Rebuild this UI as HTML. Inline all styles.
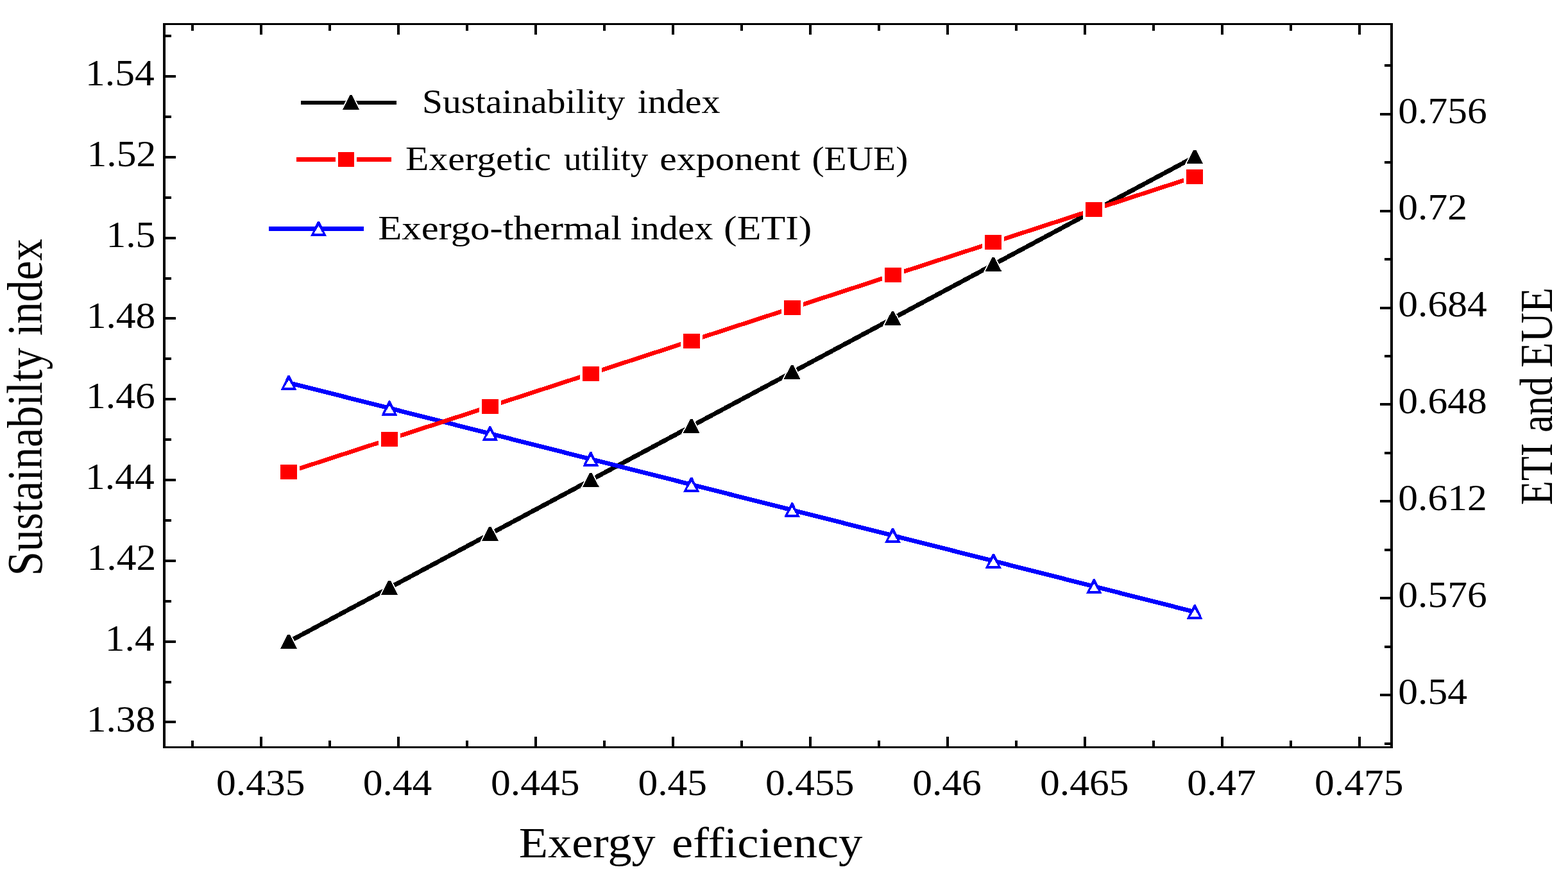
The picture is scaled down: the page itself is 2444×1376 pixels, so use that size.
<!DOCTYPE html><html><head><meta charset="utf-8"><title>Sustainability index vs exergy efficiency</title><style>html,body{margin:0;padding:0;background:#fff;width:2444px;height:1376px;overflow:hidden}svg{display:block}</style></head><body><svg shape-rendering="crispEdges" width="2444" height="1376" viewBox="0 0 2444 1376"><rect x="0" y="0" width="2444" height="1376" fill="#fff"/><path d="M256 36.0V1166.0M2169 36.0V1166.0" stroke="#000" stroke-width="4"/><path d="M254 37.5H2171M254 1164.5H2171" stroke="#000" stroke-width="3"/><path d="M407 1164.5V1148M407 37.5V54M300 1164.5V1154M300 37.5V48M621 1164.5V1148M621 37.5V54M514 1164.5V1154M514 37.5V48M835 1164.5V1148M835 37.5V54M728 1164.5V1154M728 37.5V48M1049 1164.5V1148M1049 37.5V54M942 1164.5V1154M942 37.5V48M1263 1164.5V1148M1263 37.5V54M1156 1164.5V1154M1156 37.5V48M1477 1164.5V1148M1477 37.5V54M1370 1164.5V1154M1370 37.5V48M1691 1164.5V1148M1691 37.5V54M1584 1164.5V1154M1584 37.5V48M1905 1164.5V1148M1905 37.5V54M1798 1164.5V1154M1798 37.5V48M2119 1164.5V1148M2119 37.5V54M2012 1164.5V1154M2012 37.5V48M256 119.0H274M256 56.1H267M256 244.8H274M256 181.9H267M256 370.6H274M256 307.7H267M256 496.4H274M256 433.5H267M256 622.2H274M256 559.3H267M256 748.0H274M256 685.1H267M256 873.8H274M256 810.9H267M256 999.6H274M256 936.7H267M256 1125.4H274M256 1062.5H267M2169 177.5H2151M2169 328.5H2151M2169 479.5H2151M2169 630.4H2151M2169 781.4H2151M2169 932.4H2151M2169 1083.4H2151M2169 102.0H2158M2169 253.0H2158M2169 404.0H2158M2169 554.9H2158M2169 705.9H2158M2169 856.9H2158M2169 1007.9H2158M2169 1158.9H2158" stroke="#000" stroke-width="4"/><path d="M450.10 999.90 L607.00 915.96 L763.90 832.02 L920.80 748.08 L1077.70 664.14 L1234.60 580.20 L1391.50 496.26 L1548.40 412.32 L1705.30 328.38 L1862.20 244.44" fill="none" stroke="#000" stroke-width="7" stroke-linejoin="round"/><path d="M437.10 1010.80L463.10 1010.80L451.95 989.00L448.25 989.00ZM594.00 926.86L620.00 926.86L608.85 905.06L605.15 905.06ZM750.90 842.92L776.90 842.92L765.75 821.12L762.05 821.12ZM907.80 758.98L933.80 758.98L922.65 737.18L918.95 737.18ZM1064.70 675.04L1090.70 675.04L1079.55 653.24L1075.85 653.24ZM1221.60 591.10L1247.60 591.10L1236.45 569.30L1232.75 569.30ZM1378.50 507.16L1404.50 507.16L1393.35 485.36L1389.65 485.36ZM1535.40 423.22L1561.40 423.22L1550.25 401.42L1546.55 401.42ZM1692.30 339.28L1718.30 339.28L1707.15 317.48L1703.45 317.48ZM1849.20 255.34L1875.20 255.34L1864.05 233.54L1860.35 233.54Z" fill="#fff" stroke="#fff" stroke-width="3.6" stroke-linejoin="miter"/><path d="M437.10 1010.80L463.10 1010.80L451.95 989.00L448.25 989.00ZM594.00 926.86L620.00 926.86L608.85 905.06L605.15 905.06ZM750.90 842.92L776.90 842.92L765.75 821.12L762.05 821.12ZM907.80 758.98L933.80 758.98L922.65 737.18L918.95 737.18ZM1064.70 675.04L1090.70 675.04L1079.55 653.24L1075.85 653.24ZM1221.60 591.10L1247.60 591.10L1236.45 569.30L1232.75 569.30ZM1378.50 507.16L1404.50 507.16L1393.35 485.36L1389.65 485.36ZM1535.40 423.22L1561.40 423.22L1550.25 401.42L1546.55 401.42ZM1692.30 339.28L1718.30 339.28L1707.15 317.48L1703.45 317.48ZM1849.20 255.34L1875.20 255.34L1864.05 233.54L1860.35 233.54Z" fill="#000"/><path d="M450.10 596.40 L607.00 636.08 L763.90 675.76 L920.80 715.44 L1077.70 755.12 L1234.60 794.80 L1391.50 834.48 L1548.40 874.16 L1705.30 913.84 L1862.20 953.52" fill="none" stroke="#00f" stroke-width="6.8" stroke-linejoin="round"/><path d="M443.05 603.90L450.10 592.00L457.15 603.90ZM599.95 643.58L607.00 631.68L614.05 643.58ZM756.85 683.26L763.90 671.36L770.95 683.26ZM913.75 722.94L920.80 711.04L927.85 722.94ZM1070.65 762.62L1077.70 750.72L1084.75 762.62ZM1227.55 802.30L1234.60 790.40L1241.65 802.30ZM1384.45 841.98L1391.50 830.08L1398.55 841.98ZM1541.35 881.66L1548.40 869.76L1555.45 881.66ZM1698.25 921.34L1705.30 909.44L1712.35 921.34ZM1855.15 961.02L1862.20 949.12L1869.25 961.02Z" fill="#fff"/><path d="M437.60 608.00L462.60 608.00L451.50 584.80L448.70 584.80ZM443.05 603.90L450.10 592.00L457.15 603.90ZM594.50 647.68L619.50 647.68L608.40 624.48L605.60 624.48ZM599.95 643.58L607.00 631.68L614.05 643.58ZM751.40 687.36L776.40 687.36L765.30 664.16L762.50 664.16ZM756.85 683.26L763.90 671.36L770.95 683.26ZM908.30 727.04L933.30 727.04L922.20 703.84L919.40 703.84ZM913.75 722.94L920.80 711.04L927.85 722.94ZM1065.20 766.72L1090.20 766.72L1079.10 743.52L1076.30 743.52ZM1070.65 762.62L1077.70 750.72L1084.75 762.62ZM1222.10 806.40L1247.10 806.40L1236.00 783.20L1233.20 783.20ZM1227.55 802.30L1234.60 790.40L1241.65 802.30ZM1379.00 846.08L1404.00 846.08L1392.90 822.88L1390.10 822.88ZM1384.45 841.98L1391.50 830.08L1398.55 841.98ZM1535.90 885.76L1560.90 885.76L1549.80 862.56L1547.00 862.56ZM1541.35 881.66L1548.40 869.76L1555.45 881.66ZM1692.80 925.44L1717.80 925.44L1706.70 902.24L1703.90 902.24ZM1698.25 921.34L1705.30 909.44L1712.35 921.34ZM1849.70 965.12L1874.70 965.12L1863.60 941.92L1860.80 941.92ZM1855.15 961.02L1862.20 949.12L1869.25 961.02Z" fill="#00f" fill-rule="evenodd"/><path d="M450.10 735.50 L607.00 684.38 L763.90 633.26 L920.80 582.14 L1077.70 531.02 L1234.60 479.90 L1391.50 428.78 L1548.40 377.66 L1705.30 326.54 L1862.20 275.42" fill="none" stroke="#f00" stroke-width="6.6" stroke-linejoin="round"/><path d="M433.10 720.00h34v31h-34zM590.00 668.88h34v31h-34zM746.90 617.76h34v31h-34zM903.80 566.64h34v31h-34zM1060.70 515.52h34v31h-34zM1217.60 464.40h34v31h-34zM1374.50 413.28h34v31h-34zM1531.40 362.16h34v31h-34zM1688.30 311.04h34v31h-34zM1845.20 259.92h34v31h-34z" fill="#fff"/><path d="M437.10 724.00h26v23h-26zM594.00 672.88h26v23h-26zM750.90 621.76h26v23h-26zM907.80 570.64h26v23h-26zM1064.70 519.52h26v23h-26zM1221.60 468.40h26v23h-26zM1378.50 417.28h26v23h-26zM1535.40 366.16h26v23h-26zM1692.30 315.04h26v23h-26zM1849.20 263.92h26v23h-26z" fill="#f00"/><path d="M469 160H618" stroke="#000" stroke-width="6"/><path d="M534.00 170.90L560.00 170.90L548.85 148.30L545.15 148.30Z" fill="#fff" stroke="#fff" stroke-width="3.6"/><path d="M534.00 170.90L560.00 170.90L548.85 148.30L545.15 148.30Z" fill="#000"/><path d="M462 248.5H523M556 248.5H610" stroke="#f00" stroke-width="7"/><rect x="527" y="237.1" width="25" height="22.8" fill="#f00"/><path d="M419 356.6H567" stroke="#00f" stroke-width="7"/><path d="M489.40 363.90L496.45 352.00L503.50 363.90Z" fill="#fff"/><path d="M483.95 368.00L508.95 368.00L497.85 344.80L495.05 344.80ZM489.40 363.90L496.45 352.00L503.50 363.90Z" fill="#00f" fill-rule="evenodd"/><g font-family="Liberation Serif, 'Times New Roman', serif" font-size="200" fill="#000"><text transform="matrix(0.30750 0 0 0.29000 337.11 1238.90)">0.435</text><text transform="matrix(0.30750 0 0 0.29000 565.72 1238.90)">0.44</text><text transform="matrix(0.30750 0 0 0.29000 765.11 1238.90)">0.445</text><text transform="matrix(0.30750 0 0 0.29000 994.49 1238.90)">0.45</text><text transform="matrix(0.30750 0 0 0.29000 1193.11 1238.90)">0.455</text><text transform="matrix(0.30750 0 0 0.29000 1422.18 1238.90)">0.46</text><text transform="matrix(0.30750 0 0 0.29000 1621.11 1238.90)">0.465</text><text transform="matrix(0.30750 0 0 0.29000 1850.18 1238.90)">0.47</text><text transform="matrix(0.30750 0 0 0.29000 2049.11 1238.90)">0.475</text><text transform="matrix(0.30750 0 0 0.29000 133.10 133.10)">1.54</text><text transform="matrix(0.30750 0 0 0.29000 135.56 258.90)">1.52</text><text transform="matrix(0.30750 0 0 0.29000 165.39 384.70)">1.5</text><text transform="matrix(0.30750 0 0 0.29000 134.64 510.50)">1.48</text><text transform="matrix(0.30750 0 0 0.29000 134.02 636.30)">1.46</text><text transform="matrix(0.30750 0 0 0.29000 133.10 762.10)">1.44</text><text transform="matrix(0.30750 0 0 0.29000 135.56 887.90)">1.42</text><text transform="matrix(0.30750 0 0 0.29000 163.85 1013.70)">1.4</text><text transform="matrix(0.30750 0 0 0.29000 134.64 1139.50)">1.38</text><text transform="matrix(0.30750 0 0 0.29000 2179.34 191.50)">0.756</text><text transform="matrix(0.30750 0 0 0.29000 2179.34 342.48)">0.72</text><text transform="matrix(0.30750 0 0 0.29000 2179.34 493.46)">0.684</text><text transform="matrix(0.30750 0 0 0.29000 2179.34 644.44)">0.648</text><text transform="matrix(0.30750 0 0 0.29000 2179.34 795.42)">0.612</text><text transform="matrix(0.30750 0 0 0.29000 2179.34 946.40)">0.576</text><text transform="matrix(0.30750 0 0 0.29000 2179.34 1097.38)">0.54</text><text transform="matrix(0.28738 0 0 0.26750 658.06 175.80)">Sustainability</text><text transform="matrix(0.29018 0 0 0.26750 993.64 175.80)">index</text><text transform="matrix(0.29747 0 0 0.26750 632.12 264.80)">Exergetic</text><text transform="matrix(0.27447 0 0 0.26750 879.08 264.80)">utility</text><text transform="matrix(0.29959 0 0 0.26750 1028.20 264.80)">exponent</text><text transform="matrix(0.28730 0 0 0.26750 1265.41 264.80)">(EUE)</text><text transform="matrix(0.30371 0 0 0.26750 589.18 373.20)">Exergo-thermal</text><text transform="matrix(0.28995 0 0 0.26750 982.64 373.20)">index</text><text transform="matrix(0.30892 0 0 0.26750 1128.12 373.20)">(ETI)</text><text transform="matrix(0.37125 0 0 0.34050 808.67 1336.00)">Exergy</text><text transform="matrix(0.37382 0 0 0.34050 1046.91 1336.00)">efficiency</text><text transform="matrix(0 -0.34035 0.39300 0 65.30 897.32)">Sustainabilty</text><text transform="matrix(0 -0.34041 0.39300 0 65.30 523.36)">index</text><text transform="matrix(0 -0.31007 0.35950 0 2418.60 786.96)">ETI</text><text transform="matrix(0 -0.30036 0.35950 0 2418.60 673.80)">and</text><text transform="matrix(0 -0.32145 0.35950 0 2418.60 572.83)">EUE</text></g></svg></body></html>
